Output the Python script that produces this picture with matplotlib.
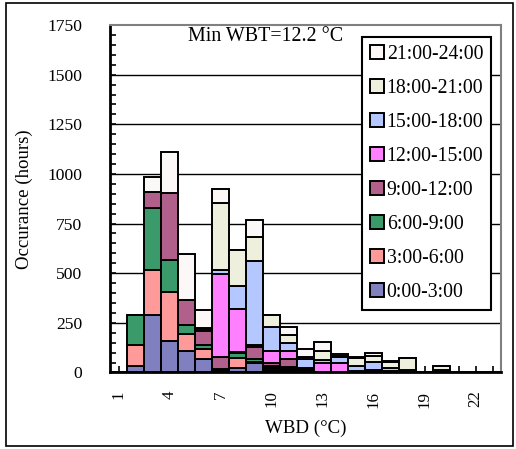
import matplotlib.pyplot as plt
import numpy as np
from matplotlib.patches import Rectangle

plt.rcParams['font.family'] = ['Liberation Serif', 'DejaVu Serif']

# ── Data: hours of occurrence per WBD bin, split by 3-hour time slot ─────────
wbd = list(range(1, 24))
h00_03 = [0, 35, 290, 160, 109, 69, 12, 21, 47, 12, 12, 8, 0, 0, 0, 0, 0, 0, 0, 0, 0, 0, 0]
h03_06 = [0, 105, 225, 246, 85, 51, 3, 54, 5, 12, 8, 5, 0, 0, 0, 0, 0, 0, 0, 0, 0, 0, 0]
h06_09 = [0, 152, 315, 161, 47, 20, 3, 23, 15, 10, 8, 4, 0, 0, 0, 0, 0, 0, 0, 0, 0, 0, 0]
h09_12 = [0, 0, 80, 339, 124, 67, 62, 5, 59, 16, 39, 4, 3, 3, 3, 0, 3, 3, 0, 0, 0, 0, 0]
h12_15 = [0, 0, 0, 0, 0, 8, 416, 218, 12, 56, 39, 0, 44, 44, 5, 14, 5, 3, 0, 0, 0, 0, 0]
h15_18 = [0, 0, 0, 0, 0, 8, 22, 115, 422, 124, 42, 46, 18, 30, 27, 38, 17, 8, 0, 12, 0, 0, 0]
h18_21 = [0, 0, 0, 0, 0, 0, 337, 183, 121, 62, 43, 10, 45, 8, 37, 30, 28, 58, 0, 20, 0, 0, 0]
h21_24 = [0, 0, 77, 204, 232, 91, 70, 0, 89, 0, 39, 40, 43, 9, 8, 18, 5, 0, 0, 0, 0, 0, 0]

series = [h00_03, h03_06, h06_09, h09_12, h12_15, h15_18, h18_21, h21_24]
labels = ["0:00-3:00", "3:00-6:00", "6:00-9:00", "9:00-12:00",
          "12:00-15:00", "15:00-18:00", "18:00-21:00", "21:00-24:00"]
colours = ['#8080C0', '#FF9A9A', '#3A9A6A', '#B0608A',
           '#FF80FF', '#B4C8FF', '#EEEFDD', '#FCF8F8']

# ── Figure ───────────────────────────────────────────────────────────────────
fig = plt.figure(figsize=(5.16, 4.49), dpi=100)
ax = fig.add_axes([0.2132, 0.1704, 0.7578, 0.7739])

# outer frame round the whole figure
fig.patches.append(Rectangle((0.011, 0.006), 0.983, 0.987, transform=fig.transFigure,
                             fill=False, edgecolor='black', linewidth=1.2))

# gridlines by hand so they sit under the bars while ticks stay on top
for gy in range(250, 1750, 250):
    ax.axhline(gy, color='black', linewidth=1.0, zorder=0.5)

bottom = np.zeros(len(wbd))
handles = []
for vals, lab, col in zip(series, labels, colours):
    h = ax.bar(wbd, vals, width=1.0, bottom=bottom, color=col,
               edgecolor='black', linewidth=1.4, label=lab, zorder=2)
    handles.append(h)
    bottom += np.array(vals)

# ── Axis styling ─────────────────────────────────────────────────────────────
ax.set_xlim(0.5, 23.5)
ax.set_ylim(0, 1750)
ax.set_yticks(np.arange(0, 1751, 250))
ax.set_yticks(np.arange(0, 1751, 50), minor=True)
ax.set_xticks(wbd)
ax.set_xticklabels([str(v) if (v - 1) % 3 == 0 else "" for v in wbd])
ax.tick_params(axis='x', which='major', direction='in', length=4, width=1.2,
               labelsize=12.2, labelrotation=90, pad=13)
ax.tick_params(axis='y', which='both', direction='in', length=4, width=1.2,
               labelsize=12.6, pad=20)

ax.spines['left'].set_linewidth(2)
ax.spines['bottom'].set_linewidth(2)
for s in ['top', 'right']:
    ax.spines[s].set_color('#808080')
    ax.spines[s].set_linewidth(1.5)

ax.set_ylabel("Occurance (hours)", fontsize=13.6, labelpad=10)
ax.set_xlabel("WBD (°C)", fontsize=13.6, labelpad=9)

ax.text(0.2, 0.968, "Min WBT=12.2 °C", transform=ax.transAxes,
        ha='left', va='center', fontsize=14.4)

leg = ax.legend(handles[::-1], labels[::-1], loc='upper right',
                bbox_to_anchor=(0.975, 0.966), borderaxespad=0,
                fontsize=14.2, frameon=True, fancybox=False,
                edgecolor='black', framealpha=1, labelspacing=0.76,
                handlelength=0.7, handleheight=0.7, handletextpad=0.15,
                borderpad=0.4)
leg.get_frame().set_linewidth(1.5)
leg.set_zorder(5)

plt.savefig("out.png", dpi=100)
